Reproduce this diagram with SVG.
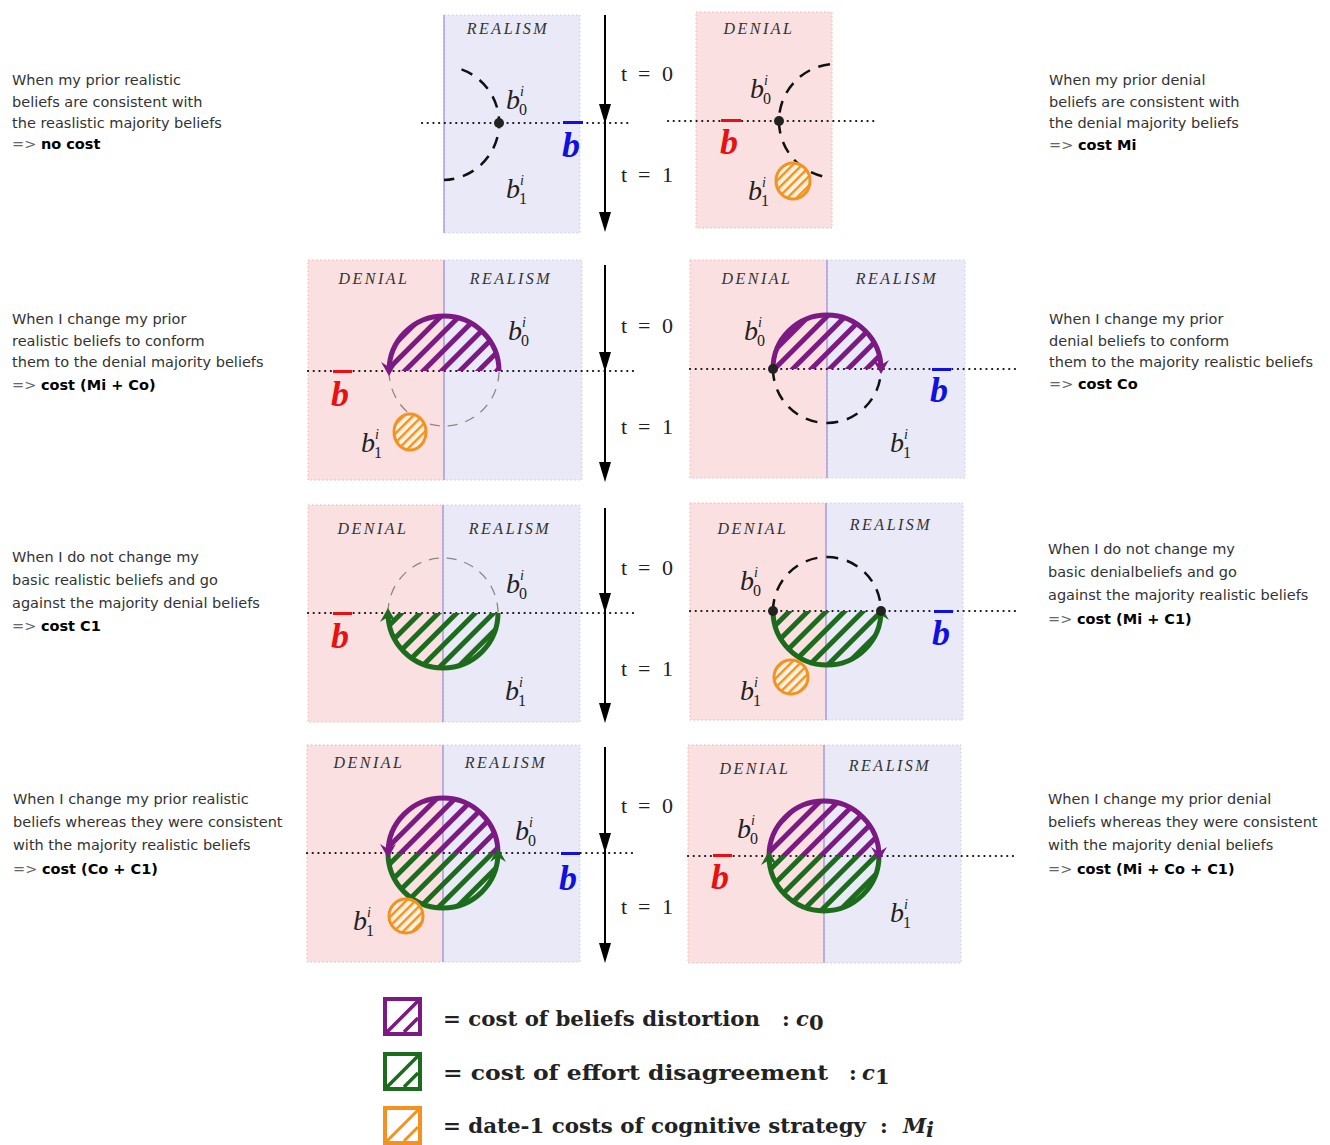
<svg xmlns="http://www.w3.org/2000/svg" xmlns:xlink="http://www.w3.org/1999/xlink" width="1330" height="1145" viewBox="0 0 1330 1145">
<style>
.bgp{fill:#fae0e0;stroke:#e8b4b4;stroke-width:1;stroke-dasharray:1.5,2.5}
.bgb{fill:#e9e9f8;stroke:#c9c9e8;stroke-width:1;stroke-dasharray:1.5,2.5}
.dv{stroke:#9d97dc;stroke-width:1.3}
.hd{stroke:#111;stroke-width:2.2;stroke-dasharray:0.1,5.6;stroke-linecap:round;fill:none}
.lbl{font-family:"Liberation Serif",serif;font-style:italic;font-size:16px;letter-spacing:2.5px;fill:#333;text-anchor:middle}
.b{font-family:"Liberation Serif",serif;font-style:italic;font-size:28px;fill:#222}
.sup{font-family:"Liberation Serif",serif;font-style:italic;font-size:14px;fill:#222}
.sub{font-family:"Liberation Serif",serif;font-size:16px;fill:#222}
.bb{font-family:"Liberation Serif",serif;font-style:italic;font-weight:bold;font-size:36px}
.t{font-family:"Liberation Serif",serif;font-size:22px;fill:#222}
.desc{font-family:"DejaVu Sans",sans-serif;font-size:14.5px;fill:#333}
.ar{fill:#666}
.bo{font-weight:bold;fill:#000}
.dash{fill:none;stroke:#111;stroke-width:2.5;stroke-dasharray:12,9}
.gdash{fill:none;stroke:#888;stroke-width:1.3;stroke-dasharray:10,8}
.pa{fill:none;stroke:#7a1a82;stroke-width:5}
.ga{fill:none;stroke:#1d6b1d;stroke-width:5}
.or{fill:url(#ho);stroke:#f39220;stroke-width:3}
.orb{fill:#fdf1e2}
.leg{font-family:"DejaVu Serif",serif;font-weight:bold;font-size:21px;fill:#222}
.tl{stroke:#000;stroke-width:2}
</style>
<defs>
<pattern id="hp" patternUnits="userSpaceOnUse" width="13" height="13" patternTransform="rotate(45)"><rect width="5" height="13" fill="#7a1a82"/></pattern>
<pattern id="hg" patternUnits="userSpaceOnUse" width="13" height="13" patternTransform="rotate(45)"><rect width="5" height="13" fill="#1d6b1d"/></pattern>
<pattern id="ho" patternUnits="userSpaceOnUse" width="6.5" height="6.5" patternTransform="rotate(45)"><rect width="2.4" height="6.5" fill="#f39220"/></pattern>
<path id="ahp" d="M0,3 L-8,-11 L0,-6 L8,-11 Z" fill="#7a1a82"/>
<path id="ahg" d="M0,-3 L-8,11 L0,6 L8,11 Z" fill="#1d6b1d"/>
<path id="tri" d="M0,0 L-6,-20 L6,-20 Z" fill="#000"/>
</defs>
<rect width="1330" height="1145" fill="#fff"/>

<!-- Row 1 left -->
<g id="r1-left">
<rect class="bgb" x="444" y="15" width="136" height="218"/>
<line class="dv" x1="444" y1="15" x2="444" y2="233"/>
<text class="lbl" x="508" y="34">REALISM</text>
<line class="hd" x1="422" y1="123" x2="628" y2="123"/>
<path class="dash" d="M461.5,69.4 A57,57 0 0 1 444,180"/>
<circle cx="499" cy="123" r="5" fill="#222"/>
<text class="b" x="506" y="109">b</text><text class="sup" x="520" y="96">i</text><text class="sub" x="519" y="115">0</text>
<text class="b" x="506" y="198">b</text><text class="sup" x="520" y="185">i</text><text class="sub" x="519" y="204">1</text>
<text class="bb" x="562" y="157" fill="#1010e0">b</text><rect x="563" y="121" width="20" height="3" fill="#1010e0"/>
</g>

<!-- Row 1 right -->
<g id="r1-right">
<rect class="bgp" x="696" y="12" width="136" height="216"/>
<text class="lbl" x="759" y="34">DENIAL</text>
<line class="hd" x1="668" y1="121" x2="875" y2="121"/>
<path class="dash" d="M830,64.3 A57,57 0 0 0 822.2,176.3"/>
<circle cx="779" cy="121" r="5" fill="#222"/>
<ellipse class="orb" cx="793" cy="181" rx="17" ry="18"/><ellipse class="or" cx="793" cy="181" rx="17" ry="18"/>
<text class="b" x="750" y="98">b</text><text class="sup" x="764" y="85">i</text><text class="sub" x="763" y="104">0</text>
<text class="b" x="748" y="200">b</text><text class="sup" x="762" y="187">i</text><text class="sub" x="761" y="206">1</text>
<text class="bb" x="720" y="154" fill="#e81010">b</text><rect x="721" y="119" width="20" height="3" fill="#e81010"/>
</g>

<!-- Row 2 left -->
<g id="r2-left">
<rect class="bgp" x="308" y="260" width="136" height="220"/>
<rect class="bgb" x="444" y="260" width="138" height="220"/>
<line class="dv" x1="444" y1="260" x2="444" y2="480"/>
<text class="lbl" x="374" y="284">DENIAL</text>
<text class="lbl" x="511" y="284">REALISM</text>
<line class="hd" x1="308" y1="371" x2="638" y2="371"/>
<path class="gdash" d="M389,371 A55,55 0 0 0 499,371"/>
<path d="M499,371 A55,55 0 0 0 389,371 Z" fill="url(#hp)"/>
<path class="pa" d="M499,371 A55,55 0 0 0 389,371"/>
<use xlink:href="#ahp" x="389" y="373"/>
<ellipse class="orb" cx="410" cy="432" rx="16" ry="18"/><ellipse class="or" cx="410" cy="432" rx="16" ry="18"/>
<text class="b" x="508" y="340">b</text><text class="sup" x="522" y="327">i</text><text class="sub" x="521" y="346">0</text>
<text class="b" x="361" y="452">b</text><text class="sup" x="375" y="439">i</text><text class="sub" x="374" y="458">1</text>
<text class="bb" x="331" y="406" fill="#e81010">b</text><rect x="333" y="370" width="19" height="3" fill="#e81010"/>
</g>

<!-- Row 2 right -->
<g id="r2-right">
<rect class="bgp" x="690" y="260" width="137" height="218"/>
<rect class="bgb" x="827" y="260" width="138" height="218"/>
<line class="dv" x1="827" y1="260" x2="827" y2="478"/>
<text class="lbl" x="757" y="284">DENIAL</text>
<text class="lbl" x="897" y="284">REALISM</text>
<line class="hd" x1="690" y1="369" x2="1020" y2="369"/>
<path class="dash" d="M773,369 A54,54 0 0 0 881,369"/>
<path d="M773,369 A54,54 0 0 1 881,369 Z" fill="url(#hp)"/>
<path class="pa" d="M773,369 A54,54 0 0 1 881,369"/>
<use xlink:href="#ahp" x="881" y="371"/>
<circle cx="773" cy="369" r="5" fill="#222"/>
<text class="b" x="744" y="340">b</text><text class="sup" x="758" y="327">i</text><text class="sub" x="757" y="346">0</text>
<text class="b" x="890" y="452">b</text><text class="sup" x="904" y="439">i</text><text class="sub" x="903" y="458">1</text>
<text class="bb" x="930" y="402" fill="#1010e0">b</text><rect x="932" y="368" width="19" height="3" fill="#1010e0"/>
</g>

<!-- Row 3 left -->
<g id="r3-left">
<rect class="bgp" x="308" y="505" width="135" height="217"/>
<rect class="bgb" x="443" y="505" width="137" height="217"/>
<line class="dv" x1="443" y1="505" x2="443" y2="722"/>
<text class="lbl" x="373" y="534">DENIAL</text>
<text class="lbl" x="510" y="534">REALISM</text>
<line class="hd" x1="308" y1="613" x2="635" y2="613"/>
<path class="gdash" d="M388,613 A55,55 0 0 1 498,613"/>
<path d="M498,613 A55,55 0 0 1 388,613 Z" fill="url(#hg)"/>
<path class="ga" d="M498,613 A55,55 0 0 1 388,613"/>
<use xlink:href="#ahg" x="388" y="611"/>
<text class="b" x="506" y="593">b</text><text class="sup" x="520" y="580">i</text><text class="sub" x="519" y="599">0</text>
<text class="b" x="505" y="700">b</text><text class="sup" x="519" y="687">i</text><text class="sub" x="518" y="706">1</text>
<text class="bb" x="331" y="648" fill="#e81010">b</text><rect x="333" y="612" width="19" height="3" fill="#e81010"/>
</g>

<!-- Row 3 right -->
<g id="r3-right">
<rect class="bgp" x="690" y="503" width="136" height="217"/>
<rect class="bgb" x="826" y="503" width="137" height="217"/>
<line class="dv" x1="826" y1="503" x2="826" y2="720"/>
<text class="lbl" x="753" y="534">DENIAL</text>
<text class="lbl" x="891" y="530">REALISM</text>
<line class="hd" x1="690" y1="611" x2="1018" y2="611"/>
<path class="dash" d="M773,611 A54,54 0 0 1 881,611"/>
<path d="M773,611 A54,54 0 0 0 881,611 Z" fill="url(#hg)"/>
<path class="ga" d="M773,611 A54,54 0 0 0 881,611"/>
<use xlink:href="#ahg" x="881" y="609"/>
<circle cx="773" cy="611" r="5" fill="#222"/>
<circle cx="881" cy="611" r="5" fill="#222"/>
<ellipse class="orb" cx="791" cy="677" rx="17" ry="17"/><ellipse class="or" cx="791" cy="677" rx="17" ry="17"/>
<text class="b" x="740" y="590">b</text><text class="sup" x="754" y="577">i</text><text class="sub" x="753" y="596">0</text>
<text class="b" x="740" y="700">b</text><text class="sup" x="754" y="687">i</text><text class="sub" x="753" y="706">1</text>
<text class="bb" x="932" y="645" fill="#1010e0">b</text><rect x="934" y="610" width="19" height="3" fill="#1010e0"/>
</g>

<!-- Row 4 left -->
<g id="r4-left">
<rect class="bgp" x="307" y="745" width="136" height="217"/>
<rect class="bgb" x="443" y="745" width="137" height="217"/>
<line class="dv" x1="443" y1="745" x2="443" y2="962"/>
<text class="lbl" x="369" y="768">DENIAL</text>
<text class="lbl" x="506" y="768">REALISM</text>
<line class="hd" x1="307" y1="853" x2="635" y2="853"/>
<path d="M498,853 A55,55 0 0 0 388,853 Z" fill="url(#hp)"/>
<path d="M388,853 A55,55 0 0 0 498,853 Z" fill="url(#hg)"/>
<path class="pa" d="M498,853 A55,55 0 0 0 388,853"/>
<path class="ga" d="M388,853 A55,55 0 0 0 498,853"/>
<use xlink:href="#ahp" x="388" y="855"/>
<use xlink:href="#ahg" x="498" y="851"/>
<ellipse class="orb" cx="406" cy="916" rx="17" ry="17"/><ellipse class="or" cx="406" cy="916" rx="17" ry="17"/>
<text class="b" x="515" y="840">b</text><text class="sup" x="529" y="827">i</text><text class="sub" x="528" y="846">0</text>
<text class="b" x="353" y="930">b</text><text class="sup" x="367" y="917">i</text><text class="sub" x="366" y="936">1</text>
<text class="bb" x="559" y="890" fill="#1010e0">b</text><rect x="561" y="852" width="19" height="3" fill="#1010e0"/>
</g>

<!-- Row 4 right -->
<g id="r4-right">
<rect class="bgp" x="688" y="745" width="136" height="218"/>
<rect class="bgb" x="824" y="745" width="137" height="218"/>
<line class="dv" x1="824" y1="745" x2="824" y2="963"/>
<text class="lbl" x="755" y="774">DENIAL</text>
<text class="lbl" x="890" y="771">REALISM</text>
<line class="hd" x1="688" y1="856" x2="1015" y2="856"/>
<path d="M769,856 A55,55 0 0 1 879,856 Z" fill="url(#hp)"/>
<path d="M879,856 A55,55 0 0 1 769,856 Z" fill="url(#hg)"/>
<path class="pa" d="M769,856 A55,55 0 0 1 879,856"/>
<path class="ga" d="M879,856 A55,55 0 0 1 769,856"/>
<use xlink:href="#ahp" x="879" y="858"/>
<use xlink:href="#ahg" x="769" y="854"/>
<text class="b" x="737" y="838">b</text><text class="sup" x="751" y="825">i</text><text class="sub" x="750" y="844">0</text>
<text class="b" x="890" y="922">b</text><text class="sup" x="904" y="909">i</text><text class="sub" x="903" y="928">1</text>
<text class="bb" x="711" y="889" fill="#e81010">b</text><rect x="713" y="854" width="19" height="3" fill="#e81010"/>
</g>

<!-- Time axes -->
<g id="connectors">
<line class="tl" x1="605" y1="15" x2="605" y2="215"/><use xlink:href="#tri" x="605" y="124"/><use xlink:href="#tri" x="605" y="232"/>
<line class="tl" x1="605" y1="265" x2="605" y2="465"/><use xlink:href="#tri" x="605" y="372"/><use xlink:href="#tri" x="605" y="482"/>
<line class="tl" x1="605" y1="508" x2="605" y2="706"/><use xlink:href="#tri" x="605" y="613"/><use xlink:href="#tri" x="605" y="723"/>
<line class="tl" x1="605" y1="747" x2="605" y2="946"/><use xlink:href="#tri" x="605" y="853"/><use xlink:href="#tri" x="605" y="963"/>
</g>
<g id="time-labels" class="t">
<text x="621" y="81">t</text><text x="638" y="81">=</text><text x="662" y="81">0</text>
<text x="621" y="182">t</text><text x="638" y="182">=</text><text x="662" y="182">1</text>
<text x="621" y="333">t</text><text x="638" y="333">=</text><text x="662" y="333">0</text>
<text x="621" y="434">t</text><text x="638" y="434">=</text><text x="662" y="434">1</text>
<text x="621" y="575">t</text><text x="638" y="575">=</text><text x="662" y="575">0</text>
<text x="621" y="676">t</text><text x="638" y="676">=</text><text x="662" y="676">1</text>
<text x="621" y="813">t</text><text x="638" y="813">=</text><text x="662" y="813">0</text>
<text x="621" y="914">t</text><text x="638" y="914">=</text><text x="662" y="914">1</text>
</g>

<!-- Descriptions -->
<g id="desc-r1-left" class="desc">
<text x="12" y="85">When my prior realistic</text>
<text x="12" y="107">beliefs are consistent with</text>
<text x="12" y="128">the reaslistic majority beliefs</text>
<text x="12" y="149"><tspan class="ar">=&gt;</tspan>  <tspan class="bo">no cost</tspan></text>
</g>
<g id="desc-r1-right" class="desc">
<text x="1049" y="85">When my prior denial</text>
<text x="1049" y="107">beliefs are consistent with</text>
<text x="1049" y="128">the denial majority beliefs</text>
<text x="1049" y="150"><tspan class="ar">=&gt;</tspan>  <tspan class="bo">cost Mi</tspan></text>
</g>
<g id="desc-r2-left" class="desc">
<text x="12" y="324">When I change my prior</text>
<text x="12" y="346">realistic beliefs to conform</text>
<text x="12" y="367">them to the denial majority beliefs</text>
<text x="12" y="390"><tspan class="ar">=&gt;</tspan>  <tspan class="bo">cost (Mi + Co)</tspan></text>
</g>
<g id="desc-r2-right" class="desc">
<text x="1049" y="324">When I change my prior</text>
<text x="1049" y="346">denial beliefs to conform</text>
<text x="1049" y="367">them to the majority realistic beliefs</text>
<text x="1049" y="389"><tspan class="ar">=&gt;</tspan>  <tspan class="bo">cost Co</tspan></text>
</g>
<g id="desc-r3-left" class="desc">
<text x="12" y="562">When I do not change my</text>
<text x="12" y="585">basic realistic beliefs and go</text>
<text x="12" y="608">against the majority denial beliefs</text>
<text x="12" y="631"><tspan class="ar">=&gt;</tspan>  <tspan class="bo">cost C1</tspan></text>
</g>
<g id="desc-r3-right" class="desc">
<text x="1048" y="554">When I do not change my</text>
<text x="1048" y="577">basic denialbeliefs and go</text>
<text x="1048" y="600">against the majority realistic beliefs</text>
<text x="1048" y="624"><tspan class="ar">=&gt;</tspan>  <tspan class="bo">cost (Mi + C1)</tspan></text>
</g>
<g id="desc-r4-left" class="desc">
<text x="13" y="804">When I change my prior realistic</text>
<text x="13" y="827">beliefs whereas they were consistent</text>
<text x="13" y="850">with the majority realistic beliefs</text>
<text x="13" y="874"><tspan class="ar">=&gt;</tspan>  <tspan class="bo">cost (Co + C1)</tspan></text>
</g>
<g id="desc-r4-right" class="desc">
<text x="1048" y="804">When I change my prior denial</text>
<text x="1048" y="827">beliefs whereas they were consistent</text>
<text x="1048" y="850">with the majority denial beliefs</text>
<text x="1048" y="874"><tspan class="ar">=&gt;</tspan>  <tspan class="bo">cost (Mi + Co + C1)</tspan></text>
</g>

<!-- Legend -->
<g id="legend-c0">
<rect x="385" y="999" width="35" height="35" fill="#fff" stroke="#7a1a82" stroke-width="4"/>
<line x1="387" y1="1032" x2="418" y2="1001" stroke="#7a1a82" stroke-width="3.5"/>
<line x1="404" y1="1032" x2="418" y2="1018" stroke="#7a1a82" stroke-width="3.5"/>
<text class="leg" x="443" y="1026" textLength="317" lengthAdjust="spacingAndGlyphs">= cost of beliefs distortion</text>
<text class="leg" x="782" y="1026">:</text>
<text class="leg" x="796" y="1026" font-style="italic">c</text><text class="leg" x="809" y="1030" font-size="13">0</text>
</g>
<g id="legend-c1">
<rect x="385" y="1054" width="35" height="35" fill="#fff" stroke="#1d6b1d" stroke-width="4"/>
<line x1="387" y1="1087" x2="418" y2="1056" stroke="#1d6b1d" stroke-width="3.5"/>
<line x1="404" y1="1087" x2="418" y2="1073" stroke="#1d6b1d" stroke-width="3.5"/>
<text class="leg" x="443" y="1080" textLength="385" lengthAdjust="spacingAndGlyphs">= cost of effort disagreement</text>
<text class="leg" x="849" y="1080">:</text>
<text class="leg" x="862" y="1080" font-style="italic">c</text><text class="leg" x="875" y="1084" font-size="13">1</text>
</g>
<g id="legend-mi">
<rect x="385" y="1108" width="35" height="35" fill="#fff" stroke="#f39220" stroke-width="4"/>
<line x1="387" y1="1141" x2="418" y2="1110" stroke="#f39220" stroke-width="3"/>
<line x1="404" y1="1141" x2="418" y2="1127" stroke="#f39220" stroke-width="3"/>
<text class="leg" x="443" y="1133" textLength="423" lengthAdjust="spacingAndGlyphs">= date-1 costs of cognitive strategy</text>
<text class="leg" x="880" y="1133">:</text>
<text class="leg" x="903" y="1133" font-style="italic">M</text><text class="leg" x="926" y="1137" font-size="13" font-style="italic">i</text>
</g>
</svg>
